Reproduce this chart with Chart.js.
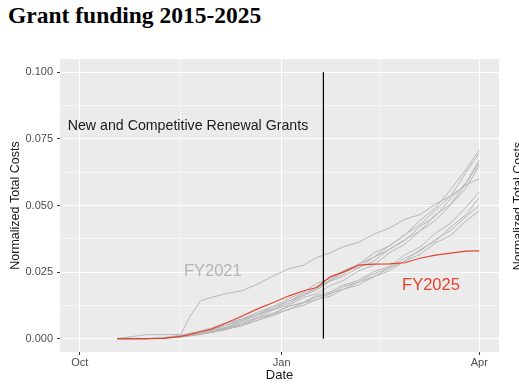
<!DOCTYPE html>
<html>
<head>
<meta charset="utf-8">
<script src="https://cdn.jsdelivr.net/npm/chart.js@4.4.1/dist/chart.umd.min.js"></script>
<style>
  html, body { margin: 0; padding: 0; background: #fff; }
  #wrap { position: relative; width: 519px; height: 388px; overflow: hidden; }
  #title { position: absolute; left: 8px; top: 2px; font: bold 23.5px "Liberation Serif", "Times New Roman", serif; color: #000; }
  canvas { position: absolute; left: 0; top: 0; }
</style>
</head>
<body>
<div id="wrap">
  <div id="title">Grant funding 2015-2025</div>
  <canvas id="chart" width="519" height="388"></canvas>
</div>
<script>
// days since Oct 1 of the fiscal year
const days = [17, 30, 38, 46, 50, 55, 60, 67, 74, 81, 88, 95, 102, 108, 114, 120, 127, 134, 141, 148, 155, 162, 169, 176, 182];

const xTicks = [0, 46, 92, 137, 182];
const xLabels = { 0: 'Oct', 92: 'Jan', 182: 'Apr' };
const yTicks = [0, 0.0125, 0.025, 0.0375, 0.05, 0.0625, 0.075, 0.0875, 0.1];
const yMajor = [0, 0.025, 0.05, 0.075, 0.1];

const fy2025 = [0, 0, 0.0001, 0.0009, 0.0015, 0.0026, 0.0036, 0.0060, 0.0085, 0.0112, 0.0135, 0.0160, 0.0180, 0.0192, 0.0232, 0.0250, 0.0276, 0.0280, 0.0281, 0.0285, 0.0302, 0.0314, 0.0321, 0.0329, 0.0330];
const fy2021 = [0, 0.0015, 0.0015, 0.0016, 0.0080, 0.0142, 0.0155, 0.0170, 0.0180, 0.0205, 0.0235, 0.0262, 0.0276, 0.0305, 0.0322, 0.0345, 0.0362, 0.0392, 0.0415, 0.0448, 0.0466, 0.0505, 0.0536, 0.0578, 0.0600];
const otherYears = [
  [0, 0, 0.0003, 0.0012, 0.0018, 0.0026, 0.0035, 0.0052, 0.0074, 0.0092, 0.0120, 0.0140, 0.0170, 0.0188, 0.0220, 0.0242, 0.0280, 0.0306, 0.0348, 0.0388, 0.0444, 0.0490, 0.0560, 0.0636, 0.0710],
  [0, 0, 0.0004, 0.0013, 0.0020, 0.0029, 0.0040, 0.0060, 0.0075, 0.0100, 0.0120, 0.0150, 0.0175, 0.0208, 0.0225, 0.0255, 0.0278, 0.0322, 0.0348, 0.0390, 0.0428, 0.0482, 0.0535, 0.0625, 0.0697],
  [0, 0, 0.0002, 0.0009, 0.0014, 0.0021, 0.0030, 0.0044, 0.0068, 0.0086, 0.0112, 0.0132, 0.0163, 0.0183, 0.0215, 0.0234, 0.0266, 0.0291, 0.0336, 0.0368, 0.0422, 0.0460, 0.0525, 0.0585, 0.0670],
  [0, 0, 0.0003, 0.0010, 0.0016, 0.0024, 0.0033, 0.0052, 0.0068, 0.0093, 0.0111, 0.0141, 0.0162, 0.0196, 0.0218, 0.0252, 0.0268, 0.0306, 0.0334, 0.0372, 0.0404, 0.0465, 0.0505, 0.0583, 0.0660],
  [0, 0, 0.0002, 0.0008, 0.0013, 0.0020, 0.0028, 0.0040, 0.0062, 0.0079, 0.0108, 0.0125, 0.0155, 0.0169, 0.0199, 0.0218, 0.0254, 0.0276, 0.0322, 0.0354, 0.0404, 0.0444, 0.0502, 0.0566, 0.0650],
  [0, 0, 0.0002, 0.0008, 0.0012, 0.0018, 0.0025, 0.0039, 0.0053, 0.0077, 0.0093, 0.0120, 0.0137, 0.0163, 0.0175, 0.0201, 0.0219, 0.0252, 0.0271, 0.0314, 0.0344, 0.0396, 0.0434, 0.0494, 0.0550],
  [0, 0, 0.0002, 0.0007, 0.0011, 0.0017, 0.0024, 0.0034, 0.0054, 0.0068, 0.0092, 0.0108, 0.0135, 0.0147, 0.0171, 0.0185, 0.0213, 0.0232, 0.0266, 0.0291, 0.0334, 0.0366, 0.0419, 0.0466, 0.0530],
  [0, 0, 0.0001, 0.0006, 0.0010, 0.0016, 0.0023, 0.0037, 0.0048, 0.0070, 0.0086, 0.0110, 0.0125, 0.0148, 0.0159, 0.0185, 0.0202, 0.0233, 0.0255, 0.0291, 0.0316, 0.0359, 0.0388, 0.0442, 0.0480],
  [0, 0, 0.0002, 0.0007, 0.0012, 0.0019, 0.0027, 0.0042, 0.0055, 0.0078, 0.0095, 0.0121, 0.0135, 0.0158, 0.0167, 0.0195, 0.0212, 0.0244, 0.0265, 0.0302, 0.0328, 0.0372, 0.0406, 0.0459, 0.0500]
];
const cutoffDay = 111;

const FONT = '"Liberation Sans", Arial, Helvetica, sans-serif';
const GRAY = '#b8b8b8';
const RED = '#e4432d';

function toPoints(vals) {
  return vals.map((v, i) => ({ x: days[i], y: v }));
}

const datasets = otherYears.map(vals => ({
  data: toPoints(vals),
  borderColor: GRAY,
  borderWidth: 1,
  order: 2
}));
datasets.push({ data: toPoints(fy2021), borderColor: GRAY, borderWidth: 1, order: 1 });
datasets.push({ data: toPoints(fy2025), borderColor: RED, borderWidth: 1.2, order: 0 });

const isMajorY = v => yMajor.some(m => Math.abs(m - v) < 1e-9);
const isMajorX = v => xLabels[v] !== undefined;

const panelPlugin = {
  id: 'panel',
  beforeDraw(chart) {
    const { ctx, chartArea: a } = chart;
    ctx.save();
    ctx.fillStyle = '#ebebeb';
    ctx.fillRect(a.left, a.top, a.right - a.left, a.bottom - a.top);
    ctx.restore();
  },
  afterDatasetsDraw(chart) {
    const { ctx, scales: { x, y } } = chart;
    ctx.save();
    // cutoff line
    ctx.strokeStyle = '#000';
    ctx.lineWidth = 1.2;
    ctx.beginPath();
    ctx.moveTo(x.getPixelForValue(cutoffDay), y.getPixelForValue(0.1));
    ctx.lineTo(x.getPixelForValue(cutoffDay), y.getPixelForValue(0));
    ctx.stroke();

    ctx.textAlign = 'center';
    ctx.textBaseline = 'middle';
    ctx.font = '14.2px ' + FONT;
    ctx.fillStyle = '#1a1a1a';
    ctx.fillText('New and Competitive Renewal Grants', x.getPixelForValue(49.3), y.getPixelForValue(0.080));

    ctx.font = '16.5px ' + FONT;
    ctx.fillStyle = '#b5b5b5';
    ctx.fillText('FY2021', x.getPixelForValue(60.6), y.getPixelForValue(0.0251));
    ctx.fillStyle = RED;
    ctx.fillText('FY2025', x.getPixelForValue(160), y.getPixelForValue(0.0199));

    // y title of the neighbouring panel, cut by the edge
    ctx.translate(522, 206);
    ctx.rotate(-Math.PI / 2);
    ctx.textBaseline = 'alphabetic';
    ctx.font = '12.5px ' + FONT;
    ctx.fillStyle = '#1a1a1a';
    ctx.fillText('Normalized Total Costs', 0, 0);
    ctx.restore();
  }
};

new Chart(document.getElementById('chart'), {
  type: 'line',
  data: { datasets: datasets },
  plugins: [panelPlugin],
  options: {
    responsive: false,
    animation: false,
    layout: { padding: { left: 0, right: 20, top: 59, bottom: 0 } },
    elements: {
      line: { tension: 0, fill: false },
      point: { radius: 0, hoverRadius: 0 }
    },
    plugins: {
      legend: { display: false },
      tooltip: { enabled: false }
    },
    scales: {
      x: {
        type: 'linear',
        min: -9,
        max: 191,
        afterBuildTicks: axis => { axis.ticks = xTicks.map(v => ({ value: v })); },
        afterFit: axis => { axis.height = 36; },
        border: { display: false },
        grid: {
          color: '#ffffff',
          lineWidth: c => isMajorX(c.tick.value) ? 1.1 : 0.5,
          tickColor: c => isMajorX(c.tick.value) ? '#333333' : 'rgba(0,0,0,0)',
          tickLength: 3,
          tickWidth: 1
        },
        ticks: {
          autoSkip: false,
          maxRotation: 0,
          padding: 1,
          color: '#4d4d4d',
          font: { family: FONT, size: 11 },
          callback: v => xLabels[v] || ''
        },
        title: {
          display: true,
          text: 'Date',
          color: '#1a1a1a',
          font: { family: FONT, size: 13 },
          padding: { top: 0, bottom: 5 }
        }
      },
      y: {
        min: -0.005,
        max: 0.105,
        afterBuildTicks: axis => { axis.ticks = yTicks.map(v => ({ value: v })); },
        afterFit: axis => { axis.width = 60; },
        border: { display: false },
        grid: {
          color: '#ffffff',
          lineWidth: c => isMajorY(c.tick.value) ? 1.1 : 0.5,
          tickColor: c => isMajorY(c.tick.value) ? '#333333' : 'rgba(0,0,0,0)',
          tickLength: 3,
          tickWidth: 1
        },
        ticks: {
          autoSkip: false,
          padding: 4,
          color: '#4d4d4d',
          font: { family: FONT, size: 11 },
          callback: v => isMajorY(v) ? v.toFixed(3) : ''
        },
        title: {
          display: true,
          text: 'Normalized Total Costs',
          color: '#1a1a1a',
          font: { family: FONT, size: 12.5 },
          padding: { top: 8.5, bottom: 0 }
        }
      }
    }
  }
});
</script>
</body>
</html>
